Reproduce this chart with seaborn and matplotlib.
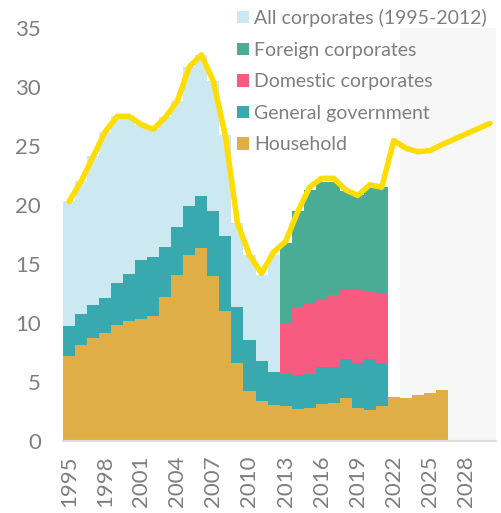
import numpy as np
import pandas as pd
import matplotlib
matplotlib.use("Agg")
import matplotlib.pyplot as plt
import seaborn as sns

# Values (% shares, by year)
years_hist = list(range(1995, 2027))          # stacked area years
years_line = list(range(1995, 2031))          # total line years

household = [7.23, 8.14, 8.76, 9.12, 9.83, 10.17, 10.34, 10.56, 12.2, 14.07,
             15.8, 16.36, 13.98, 11.02, 6.61, 4.27, 3.42, 3.05, 2.97, 2.74,
             2.8, 3.14, 3.25, 3.62, 2.77, 2.63, 2.97, 3.73, 3.62, 3.9, 4.1, 4.32]
government = [2.54, 2.65, 2.77, 3.03, 3.56, 3.98, 5.0, 5.03, 4.24, 4.07,
              4.14, 4.43, 5.51, 6.38, 4.72, 4.26, 3.36, 2.82, 2.68, 2.85,
              2.85, 3.1, 3.02, 3.36, 3.81, 4.29, 3.67]
all_corporates = [10.53, 11.21, 12.57, 14.05, 14.11, 13.35, 11.46, 10.81, 10.96,
                  10.66, 11.76, 11.91, 11.01, 8.5, 7.17, 7.27, 7.32, 9.93]
domestic = [4.32, 5.74, 5.99, 5.74, 6.08, 5.85, 6.25, 5.79, 5.79]
foreign = [6.78, 8.17, 9.66, 9.92, 9.55, 8.37, 7.97, 8.89, 9.07]
total = [20.3, 22.0, 24.1, 26.2, 27.5, 27.5, 26.8, 26.4, 27.4, 28.8,
         31.7, 32.7, 30.45, 25.8, 18.45, 15.76, 14.2, 16.0, 16.9, 19.4,
         21.5, 22.25, 22.25, 21.27, 20.8, 21.7, 21.5, 25.45, 24.8, 24.5,
         24.6, 25.1, 25.55, 26.0, 26.45, 26.9]

labels = ["All corporates (1995-2012)", "Foreign corporates",
          "Domestic corporates", "General government", "Household"]
colors = ["#cce9f1", "#4aac95", "#f75b80", "#38a9ae", "#e0ae47"]

# long table for the stacked step area
rows = []
for i, y in enumerate(years_hist):
    rows.append((y, "Household", household[i]))
    rows.append((y, "General government", government[i] if i < len(government) else 0.0))
    rows.append((y, "All corporates (1995-2012)", all_corporates[i] if i < len(all_corporates) else 0.0))
    j = i - 18
    rows.append((y, "Domestic corporates", domestic[j] if 0 <= j < len(domestic) else 0.0))
    rows.append((y, "Foreign corporates", foreign[j] if 0 <= j < len(foreign) else 0.0))
df = pd.DataFrame(rows, columns=["year", "series", "value"])
line_df = pd.DataFrame({"year": years_line, "total": total})

sns.set_style("white")
plt.rcParams["font.family"] = ["Lato", "DejaVu Sans"]
text_color = "#7f7f7f"

fig = plt.figure(figsize=(5.01, 5.13), dpi=100)
ax = fig.add_axes([0.126, 0.140, 0.864, 0.806])

# forecast shading
ax.axvspan(2022.5, 2030.5, color="#f7f7f7", zorder=0, lw=0)

sns.histplot(data=df, x="year", weights="value", hue="series", hue_order=labels,
             palette=colors, discrete=True, multiple="stack", element="step",
             fill=True, alpha=1, linewidth=0, ax=ax, zorder=2)

sns.lineplot(data=line_df, x="year", y="total", color="#ffdd00", linewidth=4,
             ax=ax, zorder=4, solid_joinstyle="round", solid_capstyle="round")

ax.set_xlim(1994.5, 2030.5)
ax.set_ylim(0, 35)
ax.set_xticks(range(1995, 2029, 3))
ax.set_yticks(range(0, 36, 5))
ax.set_xlabel("")
ax.set_ylabel("")
ax.tick_params(axis="both", length=0, labelsize=16, colors=text_color)
ax.tick_params(axis="x", labelrotation=90, pad=10)
ax.tick_params(axis="y", pad=16)
for s in ["left", "right", "top"]:
    ax.spines[s].set_visible(False)
ax.spines["bottom"].set_color("#dedede")
ax.spines["bottom"].set_linewidth(1.5)

sns.move_legend(ax, loc="upper left", bbox_to_anchor=(0.465, 0.99),
                bbox_transform=fig.transFigure, frameon=False, title=None,
                fontsize=14, handlelength=0.6, handleheight=0.6,
                handletextpad=0.3, labelspacing=0.75, borderaxespad=0,
                borderpad=0.2)
for t in ax.get_legend().get_texts():
    t.set_color(text_color)

fig.savefig("out.png", dpi=100)
